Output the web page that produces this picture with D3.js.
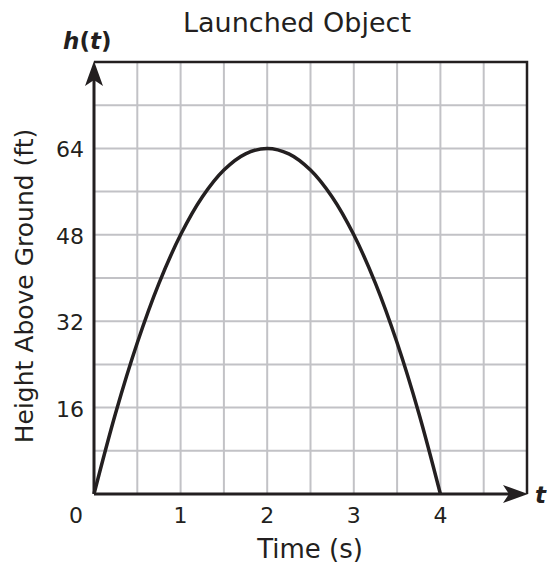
<!DOCTYPE html>
<html>
<head>
<meta charset="utf-8">
<script src="https://cdn.jsdelivr.net/npm/d3@7"></script>
<style>
  body { margin: 0; background: #fff; }
  text { font-family: 'DejaVu Sans', Verdana, sans-serif; fill: #231f20; }
</style>
</head>
<body>
<script>
let w = 547,
  h = 571;

// time (s) and height (ft)
let times = [0, 0.25, 0.5, 0.75, 1, 1.25, 1.5, 1.75, 2, 2.25, 2.5, 2.75, 3, 3.25, 3.5, 3.75, 4];
let heights = [0, 15, 28, 39, 48, 55, 60, 63, 64, 63, 60, 55, 48, 39, 28, 15, 0];

let xTicks = [1, 2, 3, 4];
let yTicks = [16, 32, 48, 64];

let pLeft = 94, pRight = 527, pTop = 62, pBottom = 494;

let x = d3.scaleLinear().domain([0, 5]).range([pLeft, pRight]);
let y = d3.scaleLinear().domain([0, 80]).range([pBottom, pTop]);

let svg = d3.select('body')
  .append('svg')
  .attr('width', w)
  .attr('height', h);

// grid
svg.append('g')
  .selectAll('line')
  .data(d3.range(0.5, 5, 0.5))
  .enter()
  .append('line')
  .attr('x1', d => x(d))
  .attr('x2', d => x(d))
  .attr('y1', pTop)
  .attr('y2', pBottom)
  .attr('stroke', '#c2c2c6')
  .attr('stroke-width', 2);

svg.append('g')
  .selectAll('line')
  .data(d3.range(8, 80, 8))
  .enter()
  .append('line')
  .attr('x1', pLeft)
  .attr('x2', pRight)
  .attr('y1', d => y(d))
  .attr('y2', d => y(d))
  .attr('stroke', '#c2c2c6')
  .attr('stroke-width', 2);

// frame (top and right)
svg.append('path')
  .attr('d', `M${pLeft},${pTop}H${pRight}V${pBottom}`)
  .attr('fill', 'none')
  .attr('stroke', '#231f20')
  .attr('stroke-width', 2.5);

// axes
svg.append('line')
  .attr('x1', pLeft).attr('x2', pRight - 8)
  .attr('y1', pBottom).attr('y2', pBottom)
  .attr('stroke', '#231f20').attr('stroke-width', 3);

svg.append('line')
  .attr('x1', pLeft).attr('x2', pLeft)
  .attr('y1', pBottom).attr('y2', pTop + 8)
  .attr('stroke', '#231f20').attr('stroke-width', 3);

// arrow heads
svg.append('path')
  .attr('d', `M${pRight + 1},${pBottom} L${pRight - 24},${pBottom - 9} L${pRight - 18},${pBottom} L${pRight - 24},${pBottom + 9} Z`)
  .attr('fill', '#231f20');

svg.append('path')
  .attr('d', `M${pLeft},${pTop - 1} L${pLeft - 9},${pTop + 24} L${pLeft},${pTop + 18} L${pLeft + 9},${pTop + 24} Z`)
  .attr('fill', '#231f20');

// curve
let line = d3.line()
  .x(d => x(d[0]))
  .y(d => y(d[1]))
  .curve(d3.curveCatmullRom);

svg.append('path')
  .datum(times.map((t, i) => [t, heights[i]]))
  .attr('d', line)
  .attr('fill', 'none')
  .attr('stroke', '#231f20')
  .attr('stroke-width', 3.5);

// tick labels
svg.selectAll('.xt')
  .data(xTicks)
  .enter()
  .append('text')
  .attr('class', 'xt')
  .text(d => d)
  .attr('x', d => x(d))
  .attr('y', pBottom + 29)
  .attr('text-anchor', 'middle')
  .attr('font-size', '22px');

svg.append('text')
  .text('0')
  .attr('x', 76)
  .attr('y', pBottom + 29)
  .attr('text-anchor', 'middle')
  .attr('font-size', '22px');

svg.selectAll('.yt')
  .data(yTicks)
  .enter()
  .append('text')
  .attr('class', 'yt')
  .text(d => d)
  .attr('x', 84)
  .attr('y', d => y(d) + 9)
  .attr('text-anchor', 'end')
  .attr('font-size', '22px');

// titles
svg.append('text')
  .text('Launched Object')
  .attr('x', 297)
  .attr('y', 32)
  .attr('text-anchor', 'middle')
  .attr('font-size', '27px');

svg.append('text')
  .text('Time (s)')
  .attr('x', 310)
  .attr('y', 558)
  .attr('text-anchor', 'middle')
  .attr('font-size', '26px');

svg.append('text')
  .text('Height Above Ground (ft)')
  .attr('transform', 'translate(33,286) rotate(-90)')
  .attr('text-anchor', 'middle')
  .attr('font-size', '25px');

let ht = svg.append('text')
  .attr('x', 63)
  .attr('y', 49)
  .attr('font-size', '23px')
  .attr('font-weight', 'bold');
ht.append('tspan').text('h').attr('font-style', 'italic');
ht.append('tspan').text('(');
ht.append('tspan').text('t').attr('font-style', 'italic');
ht.append('tspan').text(')');

svg.append('text')
  .text('t')
  .attr('x', 535)
  .attr('y', 503)
  .attr('font-size', '23px')
  .attr('font-weight', 'bold')
  .attr('font-style', 'italic');
</script>
</body>
</html>
